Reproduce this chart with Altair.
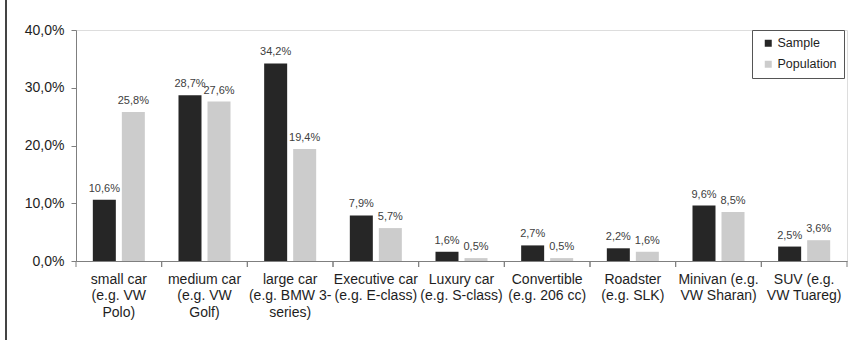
import altair as alt
import pandas as pd

categories = [
    "small car|(e.g. VW|Polo)",
    "medium car|(e.g. VW|Golf)",
    "large car|(e.g. BMW 3-|series)",
    "Executive car|(e.g. E-class)",
    "Luxury car|(e.g. S-class)",
    "Convertible|(e.g. 206 cc)",
    "Roadster|(e.g. SLK)",
    "Minivan (e.g.|VW Sharan)",
    "SUV (e.g.|VW Tuareg)",
]
series = ["Sample", "Population"]
sample = [10.6, 28.7, 34.2, 7.9, 1.6, 2.7, 2.2, 9.6, 2.5]
population = [25.8, 27.6, 19.4, 5.7, 0.5, 0.5, 1.6, 8.5, 3.6]
y_ticks = [0, 10, 20, 30, 40]
colors = ["#262626", "#cccccc"]

rows = []
for c, s, p in zip(categories, sample, population):
    rows.append({"cat": c, "series": "Sample", "value": s})
    rows.append({"cat": c, "series": "Population", "value": p})
df = pd.DataFrame(rows)
cat_df = pd.DataFrame({"cat": categories})

FONT = "Liberation Sans"

x_scale = alt.Scale(domain=categories, paddingInner=0, paddingOuter=0)
off_scale = alt.Scale(domain=series, paddingInner=0.207, paddingOuter=0.58)
y_scale = alt.Scale(domain=[0, 40], nice=False, zero=True)

x_enc = alt.X(
    "cat:N",
    sort=categories,
    scale=x_scale,
    title=None,
    axis=alt.Axis(
        labelExpr="split(datum.label, '|')",
        labelAngle=0,
        labelFontSize=14,
        labelLineHeight=16.5,
        labelColor="#1e1e1e",
        labelPadding=11,
        labelBaseline="top",
        labelLimit=200,
        ticks=False,
        domainColor="#7f7f7f",
    ),
)

y_enc = alt.Y(
    "value:Q",
    scale=y_scale,
    title=None,
    axis=alt.Axis(
        values=y_ticks,
        labelExpr="replace(format(datum.value, '.1f'), '.', ',') + '%'",
        labelFontSize=14,
        labelColor="#1e1e1e",
        labelPadding=7,
        tickSize=5,
        tickColor="#7f7f7f",
        domainColor="#7f7f7f",
        grid=False,
    ),
)

base = alt.Chart(df).encode(
    x=x_enc,
    xOffset=alt.XOffset("series:N", scale=off_scale, sort=series),
    y=y_enc,
)

bars = base.mark_bar().encode(
    color=alt.Color(
        "series:N",
        sort=series,
        scale=alt.Scale(domain=series, range=colors),
        legend=alt.Legend(
            title=None,
            orient="none",
            legendX=676,
            legendY=0,
            strokeColor="#555555",
            fillColor="white",
            padding=7,
            symbolType="square",
            symbolSize=49,
            symbolStrokeWidth=0,
            symbolOffset=3,
            labelOffset=3,
            labelFontSize=12.5,
            labelColor="#1e1e1e",
            rowPadding=8,
        ),
    )
)

labels = base.transform_calculate(
    lab="replace(format(datum.value, '.1f'), '.', ',') + '%'"
).mark_text(baseline="bottom", dy=-6, fontSize=11, color="#404040", font=FONT).encode(
    text="lab:N"
)

ticks_left = alt.Chart(cat_df).mark_rule(color="#7f7f7f").encode(
    x=alt.X("cat:N", sort=categories, scale=x_scale, bandPosition=0, title=None),
    y=alt.value(231),
    y2=alt.value(237),
)
ticks_right = alt.Chart(cat_df).mark_rule(color="#7f7f7f").encode(
    x=alt.X("cat:N", sort=categories, scale=x_scale, bandPosition=1, title=None),
    y=alt.value(231),
    y2=alt.value(237),
)

border = alt.Chart(cat_df).mark_rule(color="#444444").encode(
    x=alt.value(-70), y=alt.value(-30), y2=alt.value(310)
)

chart = (
    alt.layer(bars, labels, ticks_left, ticks_right, border)
    .properties(
        width=771,
        height=231,
        autosize=alt.AutoSizeParams(type="none"),
        padding={"left": 76, "top": 30, "right": 16, "bottom": 79},
        background="white",
    )
    .configure_view(stroke=None)
    .configure(font=FONT)
)

chart.save("out.html", embed_options={"renderer": "svg", "actions": False})
